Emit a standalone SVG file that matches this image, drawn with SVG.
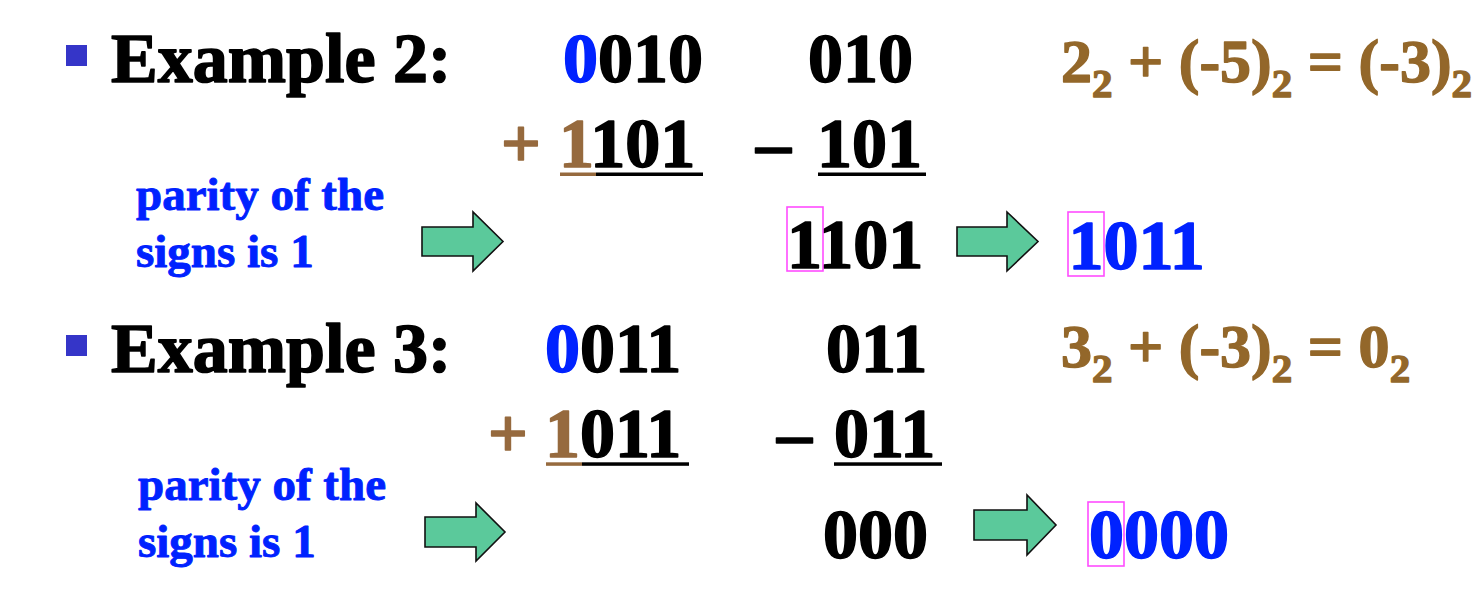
<svg xmlns="http://www.w3.org/2000/svg" width="1482" height="600" viewBox="0 0 1482 600">
  <style>
    text { font-family: "Liberation Serif", "Times New Roman", serif; font-weight: 700; stroke-linejoin: round; }
    .title { font-size: 70px; fill: #000; stroke: #000; stroke-width: 1.6px; }
    .num { font-size: 70px; fill: #000; stroke: #000; stroke-width: 1.6px; }
    .blue { fill: #0022FF; stroke: #0022FF; }
    .brown { fill: #966A3E; stroke: #966A3E; }
    .eq { font-size: 62px; fill: #93672A; stroke: #93672A; stroke-width: 1.4px; }
    .sub { font-size: 41px; }
    .note { font-size: 47px; fill: #0022FF; stroke: #0022FF; stroke-width: 0.9px; }
    .bullet { fill: #3535C8; }
    .ul { fill: #000; }
    .ulb { fill: #966A3E; }
    .box { fill: none; stroke: #FF4DFF; stroke-width: 1.6; }
    .arrow { fill: #5BC99B; stroke: #111; stroke-width: 1.6; stroke-linejoin: miter; }
  </style>
  <rect width="1482" height="600" fill="#fff"/>

  <g id="example2">
    <g id="ex2-title">
      <rect class="bullet" x="66" y="45" width="21" height="21"/>
      <text class="title" x="111" y="82">Example 2:</text>
    </g>
    <g id="ex2-binary">
      <text class="num" x="563" y="82"><tspan class="blue">0</tspan>010</text>
      <text class="num brown" x="501" y="167">+</text>
      <text class="num" x="559" y="167"><tspan class="brown">1</tspan>101</text>
      <rect class="ulb" x="560" y="172.5" width="36" height="3.5"/>
      <rect class="ul" x="596" y="172.5" width="107" height="3.5"/>
    </g>
    <g id="ex2-decimal">
      <text class="num" x="808" y="82">010</text>
      <text class="num" x="756" y="167">–</text>
      <text class="num" x="817" y="167">101</text>
      <rect class="ul" x="818" y="172.5" width="108" height="3.5"/>
    </g>
    <g id="ex2-note">
      <text class="note" x="136" y="210">parity of the</text>
      <text class="note" x="136" y="267">signs is 1</text>
    </g>
    <g id="ex2-result">
      <text class="num" x="787" y="268">1101</text>
      <rect class="box" x="787" y="207" width="36" height="64"/>
    </g>
    <g id="ex2-final">
      <text class="num blue" x="1068.5" y="269">1011</text>
      <rect class="box" x="1068" y="212" width="36" height="64"/>
    </g>
    <g id="ex2-equation">
      <text class="eq" x="1061" y="82">2<tspan class="sub" dy="15">2</tspan><tspan dy="-15"> + (-5)</tspan><tspan class="sub" dy="15">2</tspan><tspan dy="-15"> = (-3)</tspan><tspan class="sub" dy="15">2</tspan></text>
    </g>
  </g>

  <g id="example3">
    <g id="ex3-title">
      <rect class="bullet" x="66" y="335" width="21" height="21"/>
      <text class="title" x="111" y="372">Example 3:</text>
    </g>
    <g id="ex3-binary">
      <text class="num" x="545" y="372"><tspan class="blue">0</tspan>011</text>
      <text class="num brown" x="488" y="457">+</text>
      <text class="num" x="545" y="457"><tspan class="brown">1</tspan>011</text>
      <rect class="ulb" x="546" y="462.3" width="36" height="3.5"/>
      <rect class="ul" x="582" y="462.3" width="107" height="3.5"/>
    </g>
    <g id="ex3-decimal">
      <text class="num" x="826" y="372">011</text>
      <text class="num" x="777" y="457">–</text>
      <text class="num" x="834" y="457">011</text>
      <rect class="ul" x="834" y="462.3" width="108" height="3.5"/>
    </g>
    <g id="ex3-note">
      <text class="note" x="138" y="500">parity of the</text>
      <text class="note" x="138" y="557">signs is 1</text>
    </g>
    <g id="ex3-result">
      <text class="num" x="823" y="558">000</text>
    </g>
    <g id="ex3-final">
      <text class="num blue" x="1089" y="558">0000</text>
      <rect class="box" x="1088" y="502" width="36" height="64"/>
    </g>
    <g id="ex3-equation">
      <text class="eq" x="1061" y="367">3<tspan class="sub" dy="15">2</tspan><tspan dy="-15"> + (-3)</tspan><tspan class="sub" dy="15">2</tspan><tspan dy="-15"> = 0</tspan><tspan class="sub" dy="15">2</tspan></text>
    </g>
  </g>

  <g id="connectors">
    <path class="arrow" d="M422,227 H473 V212 L503,241.5 L473,271 V256 H422 Z"/>
    <path class="arrow" d="M957,227 H1007 V212 L1038,241.5 L1007,271 V256 H957 Z"/>
    <path class="arrow" d="M425,517 H476 V503 L505,532 L476,561 V547 H425 Z"/>
    <path class="arrow" d="M974,510 H1027 V495 L1056,525 L1027,555 V540 H974 Z"/>
  </g>
</svg>
